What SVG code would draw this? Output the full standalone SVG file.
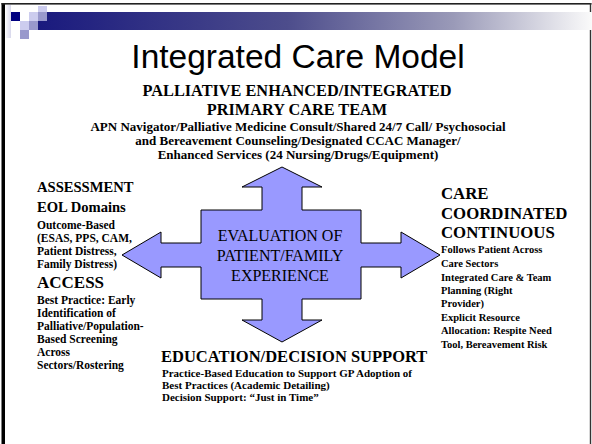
<svg xmlns="http://www.w3.org/2000/svg" width="592" height="444" viewBox="0 0 592 444">
  <defs>
    <linearGradient id="bar" x1="38" y1="0" x2="592" y2="0" gradientUnits="userSpaceOnUse">
      <stop offset="0" stop-color="#1a1a7e"/>
      <stop offset="0.45" stop-color="#4d4d8c"/>
      <stop offset="0.75" stop-color="#9a9ab8"/>
      <stop offset="1" stop-color="#fafafa"/>
    </linearGradient>
    <linearGradient id="edge" x1="0" y1="0" x2="1" y2="0">
      <stop offset="0" stop-color="#ffffff"/>
      <stop offset="1" stop-color="#d8d8ec"/>
    </linearGradient>
    <style>
      .serif { font-family: "Liberation Serif", "Times New Roman", serif; fill: #000; }
      .b { font-weight: bold; }
      .head { font-size: 16.3px; }
      .rhead { font-size: 16.8px; }
      .lhead { font-size: 14.6px; }
      .small { font-size: 10.5px; }
      .tsmall { font-size: 13px; }
      .lsmall { font-size: 11.5px; }
      .bsmall { font-size: 11px; }
      .mid { text-anchor: middle; }
      .sans { font-family: "Liberation Sans", Arial, sans-serif; fill: #000; }
    </style>
  </defs>

  <!-- page background and frame -->
  <rect x="0" y="0" width="592" height="444" fill="#ffffff"/>
  <rect x="1.5" y="3" width="3.5" height="441" fill="#000"/>
  <rect x="1.5" y="3" width="590" height="1.6" fill="#222"/>
  <rect x="589.8" y="3" width="1.4" height="441" fill="#333"/>

  <!-- header ornament -->
  <g id="header">
    <rect x="5" y="5" width="6" height="33" fill="url(#edge)"/>
    <rect x="38" y="12" width="554" height="18" fill="url(#bar)"/>
    <rect x="11" y="12" width="9" height="9" fill="#000080"/>
    <rect x="29" y="12" width="9" height="9" fill="#ccccee"/>
    <rect x="38" y="6" width="9" height="6" fill="#ccccee"/>
    <rect x="38" y="12" width="9" height="9" fill="#9999cc"/>
    <rect x="20" y="21" width="9" height="9" fill="#ccccee"/>
    <rect x="29" y="21" width="9" height="9" fill="#9999cc"/>
    <rect x="20" y="30" width="9" height="9" fill="#9999cc"/>
  </g>

  <!-- title -->
  <g id="title">
    <text class="sans mid" x="298" y="68" font-size="33.5">Integrated Care Model</text>
  </g>

  <!-- primary care team -->
  <g id="team">
    <text class="serif b head mid" x="297" y="96">PALLIATIVE ENHANCED/INTEGRATED</text>
    <text class="serif b head mid" x="297" y="115">PRIMARY CARE TEAM</text>
    <text class="serif b tsmall mid" x="298" y="131">APN Navigator/Palliative Medicine Consult/Shared 24/7 Call/ Psychosocial</text>
    <text class="serif b tsmall mid" x="298" y="145">and Bereavement Counseling/Designated CCAC Manager/</text>
    <text class="serif b tsmall mid" x="298" y="159">Enhanced Services (24 Nursing/Drugs/Equipment)</text>
  </g>

  <!-- central four-way arrow -->
  <g id="evaluation">
    <path d="M282,167 L322,187 L302,187 L302,210 L361,210 L361,243 L401,243 L401,232 L440,255 L401,278 L401,267 L361,267 L361,299 L302,299 L302,320 L322,320 L282,342 L242,320 L262,320 L262,299 L201,299 L201,267 L161,267 L161,278 L122,255 L161,232 L161,243 L201,243 L201,210 L262,210 L262,187 L242,187 Z" fill="#9999ff" stroke="#000" stroke-width="1"/>
    <text class="serif mid" x="280" y="241" font-size="16">EVALUATION OF</text>
    <text class="serif mid" x="280" y="261" font-size="16">PATIENT/FAMILY</text>
    <text class="serif mid" x="280" y="281" font-size="16">EXPERIENCE</text>
  </g>

  <!-- assessment / access -->
  <g id="assessment">
    <text class="serif b lhead" x="37" y="192">ASSESSMENT</text>
    <text class="serif b lhead" x="37" y="212">EOL Domains</text>
    <text class="serif b lsmall" x="37" y="229">Outcome-Based</text>
    <text class="serif b lsmall" x="37" y="242">(ESAS, PPS, CAM,</text>
    <text class="serif b lsmall" x="37" y="255">Patient Distress,</text>
    <text class="serif b lsmall" x="37" y="268">Family Distress)</text>
    <text class="serif b" x="37" y="288" font-size="17">ACCESS</text>
    <text class="serif b lsmall" x="37" y="304">Best Practice: Early</text>
    <text class="serif b lsmall" x="37" y="317">Identification of</text>
    <text class="serif b lsmall" x="37" y="330">Palliative/Population-</text>
    <text class="serif b lsmall" x="37" y="343">Based Screening</text>
    <text class="serif b lsmall" x="37" y="356">Across</text>
    <text class="serif b lsmall" x="37" y="369">Sectors/Rostering</text>
  </g>

  <!-- care coordination -->
  <g id="care">
    <text class="serif b rhead" x="441" y="199">CARE</text>
    <text class="serif b rhead" x="441" y="219">COORDINATED</text>
    <text class="serif b rhead" x="441" y="238">CONTINUOUS</text>
    <text class="serif b small" x="441" y="253">Follows Patient Across</text>
    <text class="serif b small" x="441" y="267">Care Sectors</text>
    <text class="serif b small" x="441" y="281">Integrated Care &amp; Team</text>
    <text class="serif b small" x="441" y="294">Planning (Right</text>
    <text class="serif b small" x="441" y="307">Provider)</text>
    <text class="serif b small" x="441" y="321">Explicit Resource</text>
    <text class="serif b small" x="441" y="334">Allocation: Respite Need</text>
    <text class="serif b small" x="441" y="348">Tool, Bereavement Risk</text>
  </g>

  <!-- education / decision support -->
  <g id="education">
    <text class="serif b" x="161" y="362" font-size="16.5">EDUCATION/DECISION SUPPORT</text>
    <text class="serif b bsmall" x="162" y="377">Practice-Based Education to Support GP Adoption of</text>
    <text class="serif b bsmall" x="162" y="389">Best Practices (Academic Detailing)</text>
    <text class="serif b bsmall" x="162" y="401">Decision Support: “Just in Time”</text>
  </g>
</svg>
